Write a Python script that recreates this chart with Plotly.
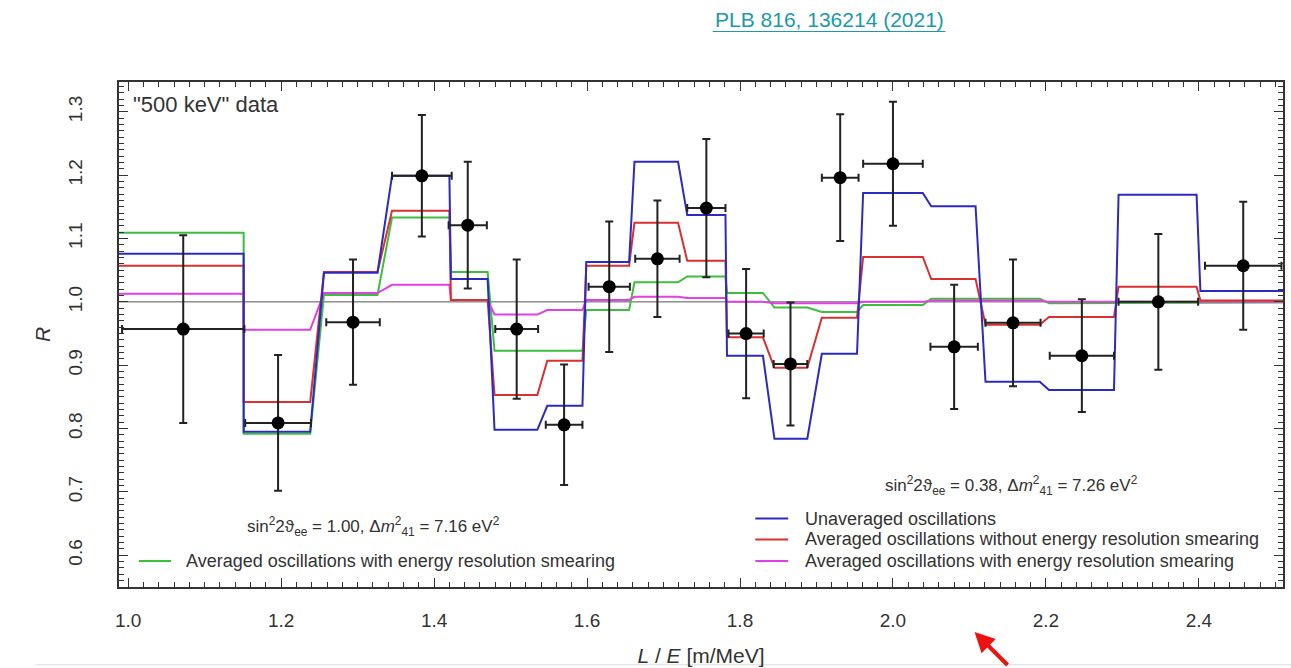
import plotly.graph_objects as go

# ---------------- data ----------------
seg_lo = [0.988, 1.151, 1.256, 1.345, 1.422, 1.479, 1.548, 1.599, 1.662, 1.731,
          1.783, 1.845, 1.907, 1.961, 2.050, 2.121, 2.204, 2.295, 2.402]
seg_hi = [1.151, 1.238, 1.326, 1.420, 1.470, 1.535, 1.594, 1.655, 1.719, 1.781,
          1.830, 1.888, 1.953, 2.039, 2.108, 2.192, 2.289, 2.397, 2.510]

unaveraged = [1.076, 0.795, 1.046, 1.199, 1.036, 0.798, 0.836, 1.063, 1.221, 1.137,
              0.915, 0.784, 0.918, 1.172, 1.151, 0.874, 0.861, 1.169, 1.017]
avg_no_smear = [1.057, 0.842, 1.047, 1.144, 1.003, 0.853, 0.907, 1.057, 1.125, 1.065,
                0.944, 0.896, 0.975, 1.071, 1.036, 0.964, 0.976, 1.024, 1.002]
avg_smear_best = [1.109, 0.792, 1.011, 1.133, 1.047, 0.923, 0.923, 0.987, 1.031, 1.040,
                  1.014, 0.991, 0.984, 0.995, 1.005, 1.005, 0.998, 0.999, 0.999]
avg_smear = [1.013, 0.956, 1.014, 1.027, 1.003, 0.980, 0.987, 1.003, 1.008, 1.006,
             1.000, 0.998, 0.998, 1.000, 1.002, 1.002, 1.000, 1.000, 1.000]

data_x = [1.072, 1.196, 1.294, 1.384, 1.444, 1.508, 1.570, 1.629, 1.692, 1.756,
          1.808, 1.866, 1.931, 2.000, 2.080, 2.157, 2.247, 2.347, 2.458]
data_y = [0.957, 0.809, 0.968, 1.199, 1.121, 0.957, 0.806, 1.024, 1.068, 1.148,
          0.950, 0.902, 1.196, 1.218, 0.929, 0.967, 0.915, 1.000, 1.057]
err_x = [0.080, 0.043, 0.035, 0.039, 0.025, 0.028, 0.024, 0.027, 0.029, 0.025,
         0.023, 0.022, 0.024, 0.039, 0.031, 0.036, 0.042, 0.052, 0.050]
err_y = [0.148, 0.107, 0.099, 0.096, 0.100, 0.110, 0.095, 0.103, 0.092, 0.109,
         0.102, 0.097, 0.100, 0.098, 0.098, 0.100, 0.089, 0.107, 0.101]

x_ticks = [1.0, 1.2, 1.4, 1.6, 1.8, 2.0, 2.2, 2.4]
y_ticks = [0.6, 0.7, 0.8, 0.9, 1.0, 1.1, 1.2, 1.3]

FONT = "Liberation Sans, Arial, sans-serif"
TXT = "#333333"


def steps(values):
    xs, ys = [], []
    for lo, hi, v in zip(seg_lo, seg_hi, values):
        xs += [lo, hi]
        ys += [v, v]
    return xs, ys


fig = go.Figure()

# reference line R = 1
fig.add_trace(go.Scatter(x=[seg_lo[0], seg_hi[-1]], y=[1.0, 1.0], mode="lines",
                         line=dict(color="#555555", width=1), showlegend=False,
                         hoverinfo="skip"))

curves = [
    ("Averaged oscillations with energy resolution smearing (best fit)", avg_smear_best, "#3cbf3c"),
    ("Averaged oscillations with energy resolution smearing", avg_smear, "#e040e6"),
    ("Averaged oscillations without energy resolution smearing", avg_no_smear, "#d93030"),
    ("Unaveraged oscillations", unaveraged, "#2b2bc4"),
]
for name, vals, col in curves:
    xs, ys = steps(vals)
    fig.add_trace(go.Scatter(x=xs, y=ys, mode="lines", name=name,
                             line=dict(color=col, width=2), showlegend=False))

fig.add_trace(go.Scatter(
    x=data_x, y=data_y, mode="markers", name='"500 keV" data', showlegend=False,
    marker=dict(color="black", size=13),
    error_x=dict(type="data", array=err_x, color="#222222", thickness=2, width=4),
    error_y=dict(type="data", array=err_y, color="#222222", thickness=2, width=4),
))

# ---------------- layout ----------------
axis_common = dict(
    showline=True, linecolor="#333333", linewidth=1.8, mirror="allticks",
    ticks="inside", ticklen=9, tickcolor="#333333", tickwidth=1,
    showgrid=False, zeroline=False, automargin=False,
    tickfont=dict(family=FONT, size=19, color=TXT),
)

fig.update_layout(
    width=1291, height=668,
    margin=dict(l=119, r=8, t=82, b=81),
    paper_bgcolor="white", plot_bgcolor="white",
    font=dict(family=FONT, color=TXT),
    xaxis=dict(range=[0.988, 2.51], tickvals=x_ticks,
               ticktext=[f"{v:.1f}" for v in x_ticks], ticklabelstandoff=15,
               minor=dict(ticks="inside", ticklen=5, dtick=0.02, tick0=1.0,
                          tickcolor="#333333"),
               title=dict(text="<i>L</i> / <i>E</i> [m/MeV]",
                          font=dict(family=FONT, size=21, color=TXT), standoff=19),
               **axis_common),
    yaxis=dict(range=[0.55, 1.347], tickvals=y_ticks,
               ticktext=[f"{v:.1f}" for v in y_ticks], tickangle=-90,
               ticklabelstandoff=28,
               minor=dict(ticks="inside", ticklen=5, dtick=0.01, tick0=0.5,
                          tickcolor="#333333"),
               title=dict(text="<i>R</i>", font=dict(family=FONT, size=21, color=TXT),
                          standoff=8),
               **axis_common),
)

annotations = [
    dict(x=1.004, y=1.312, xref="x", yref="y", xanchor="left", yanchor="middle",
         text='"500 keV" data', showarrow=False,
         font=dict(family=FONT, size=22, color=TXT)),
    dict(x=1.321, y=0.645, xref="x", yref="y", xanchor="center", yanchor="middle",
         text="sin<sup>2</sup>2ϑ<sub>ee</sub> = 1.00, Δ<i>m</i><sup>2</sup><sub>41</sub> = 7.16 eV<sup>2</sup>",
         showarrow=False, font=dict(family=FONT, size=17, color=TXT)),
    dict(x=2.155, y=0.710, xref="x", yref="y", xanchor="center", yanchor="middle",
         text="sin<sup>2</sup>2ϑ<sub>ee</sub> = 0.38, Δ<i>m</i><sup>2</sup><sub>41</sub> = 7.26 eV<sup>2</sup>",
         showarrow=False, font=dict(family=FONT, size=17, color=TXT)),
    dict(x=1.073, y=0.591, xref="x", yref="y", xanchor="left", yanchor="middle",
         text="Averaged oscillations with energy resolution smearing", showarrow=False,
         font=dict(family=FONT, size=18, color=TXT)),
    dict(x=1.883, y=0.658, xref="x", yref="y", xanchor="left", yanchor="middle",
         text="Unaveraged oscillations", showarrow=False,
         font=dict(family=FONT, size=18, color=TXT)),
    dict(x=1.883, y=0.625, xref="x", yref="y", xanchor="left", yanchor="middle",
         text="Averaged oscillations without energy resolution smearing", showarrow=False,
         font=dict(family=FONT, size=18, color=TXT)),
    dict(x=1.883, y=0.591, xref="x", yref="y", xanchor="left", yanchor="middle",
         text="Averaged oscillations with energy resolution smearing", showarrow=False,
         font=dict(family=FONT, size=18, color=TXT)),
    dict(x=0.610, y=1.123, xref="paper", yref="paper", xanchor="center", yanchor="middle",
         text="PLB 816, 136214 (2021)", showarrow=False,
         font=dict(family=FONT, size=21, color="#1a9aae")),
    dict(x=0.735, y=-0.089, xref="paper", yref="paper", text=" ", showarrow=True,
         ax=36, ay=38, arrowcolor="#ee1111", arrowwidth=4, arrowhead=2, arrowsize=1),
]
fig.update_layout(annotations=annotations)

shapes = [
    # legend samples
    dict(type="line", xref="x", yref="y", x0=1.014, x1=1.056, y0=0.591, y1=0.591,
         line=dict(color="#3cbf3c", width=2)),
    dict(type="line", xref="x", yref="y", x0=1.820, x1=1.863, y0=0.658, y1=0.658,
         line=dict(color="#2b2bc4", width=2)),
    dict(type="line", xref="x", yref="y", x0=1.820, x1=1.863, y0=0.625, y1=0.625,
         line=dict(color="#d93030", width=2)),
    dict(type="line", xref="x", yref="y", x0=1.820, x1=1.863, y0=0.591, y1=0.591,
         line=dict(color="#e040e6", width=2)),
    # link underline
    dict(type="line", xref="paper", yref="paper", x0=0.510, x1=0.710, y0=1.100, y1=1.100,
         line=dict(color="#1a9aae", width=1.2)),
    # page separator
    dict(type="line", xref="paper", yref="paper", x0=-0.072, x1=1.01, y0=-0.154, y1=-0.154,
         line=dict(color="#dddddd", width=1)),
]
fig.update_layout(shapes=shapes)

fig.write_html("out.html")
